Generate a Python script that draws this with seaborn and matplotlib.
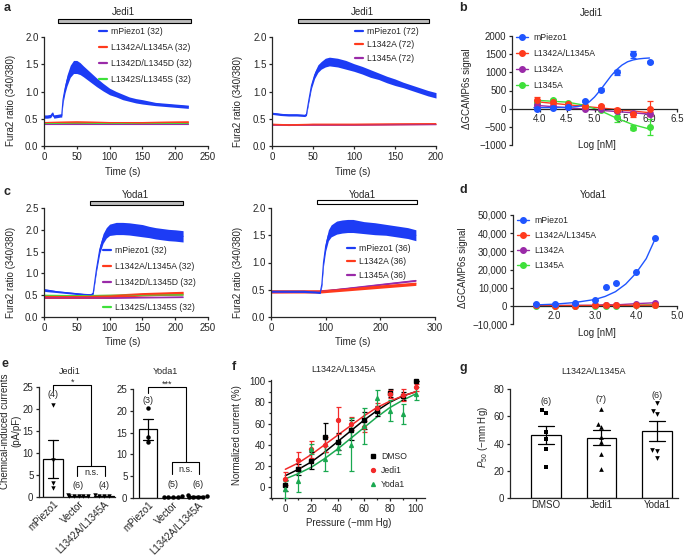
import matplotlib
matplotlib.use("Agg")
import numpy as np
import pandas as pd
import matplotlib.pyplot as plt
import matplotlib.ticker as mticker
import matplotlib.transforms as mtrans
from matplotlib.patches import Rectangle
from matplotlib.lines import Line2D
import seaborn as sns

# ---------------- data ----------------
# a (left): Jedi1, Fura2 ratio, mean and sem
a1_t_wt = [0, 5, 10, 13, 15, 20, 25, 27, 29, 32, 35, 40, 45, 50, 55, 60, 70, 80, 90, 100,
           110, 120, 130, 140, 150, 160, 170, 180, 190, 200, 210, 220]
a1_wt = [0.54, 0.54, 0.55, 0.6, 0.54, 0.55, 0.56, 0.56, 0.85, 1.05, 1.2, 1.37, 1.45, 1.45, 1.42, 1.37,
         1.27, 1.17, 1.08, 1.0, 0.95, 0.9, 0.86, 0.83, 0.81, 0.79, 0.77, 0.76, 0.75, 0.74, 0.73, 0.72]
a1_wt_sem = [0.03, 0.03, 0.03, 0.03, 0.03, 0.03, 0.03, 0.03, 0.06, 0.08, 0.1, 0.11, 0.12, 0.12, 0.11,
             0.1, 0.09, 0.08, 0.07, 0.06, 0.05, 0.05, 0.04, 0.04, 0.04, 0.035, 0.03, 0.03, 0.03,
             0.03, 0.03, 0.03]
a1_t_mut = [0, 50, 100, 150, 220]
a1_aa = [0.43, 0.44, 0.43, 0.43, 0.44]
a1_dd = [0.41, 0.41, 0.41, 0.41, 0.41]
a1_ss = [0.41, 0.42, 0.41, 0.42, 0.41]

# a (right): Jedi1, single mutants
a2_t_wt = [0, 10, 20, 30, 40, 42, 45, 48, 52, 56, 60, 65, 70, 80, 90, 100, 110, 120, 130, 140,
           150, 160, 170, 180, 190, 200]
a2_wt = [0.6, 0.58, 0.57, 0.57, 0.56, 0.58, 0.85, 1.1, 1.3, 1.42, 1.48, 1.53, 1.55, 1.53, 1.49, 1.44,
         1.39, 1.33, 1.28, 1.22, 1.17, 1.12, 1.07, 1.02, 0.97, 0.93]
a2_wt_sem = [0.02, 0.02, 0.02, 0.02, 0.02, 0.02, 0.04, 0.05, 0.06, 0.07, 0.07, 0.08, 0.08, 0.08,
             0.08, 0.07, 0.07, 0.07, 0.06, 0.06, 0.06, 0.05, 0.05, 0.05, 0.05, 0.05]
a2_t_mut = [0, 20, 50, 100, 200]
a2_l1342a = [0.4, 0.39, 0.4, 0.4, 0.41]
a2_l1345a = [0.39, 0.39, 0.39, 0.39, 0.4]

# c (left): Yoda1
c1_t_wt = [0, 5, 20, 40, 60, 72, 75, 80, 85, 90, 95, 100, 110, 120, 130, 140, 150, 160, 170,
           180, 190, 200, 212]
c1_wt = [0.62, 0.61, 0.58, 0.55, 0.52, 0.51, 0.55, 1.1, 1.55, 1.8, 1.93, 2.0, 2.03, 2.03, 2.02,
         2.0, 1.98, 1.95, 1.92, 1.9, 1.88, 1.87, 1.85]
c1_wt_sem = [0.03, 0.03, 0.02, 0.02, 0.02, 0.02, 0.03, 0.06, 0.09, 0.11, 0.12, 0.13, 0.14, 0.14,
             0.14, 0.14, 0.14, 0.13, 0.13, 0.13, 0.13, 0.13, 0.13]
c1_t_mut = [0, 50, 100, 150, 212]
c1_aa = [0.47, 0.47, 0.48, 0.52, 0.55]
c1_dd = [0.44, 0.44, 0.44, 0.45, 0.46]
c1_ss = [0.5, 0.49, 0.5, 0.5, 0.51]

# c (right): Yoda1, single mutants
c2_t_wt = [0, 20, 40, 60, 80, 90, 93, 96, 100, 105, 110, 120, 130, 140, 150, 170, 190, 210, 230,
           250, 265]
c2_wt = [0.47, 0.47, 0.47, 0.47, 0.46, 0.45, 0.6, 1.0, 1.3, 1.5, 1.58, 1.64, 1.66, 1.67, 1.67, 1.64,
         1.62, 1.6, 1.57, 1.54, 1.5]
c2_wt_sem = [0.02, 0.02, 0.02, 0.02, 0.02, 0.02, 0.04, 0.07, 0.09, 0.1, 0.11, 0.12, 0.12, 0.12,
             0.12, 0.11, 0.11, 0.1, 0.1, 0.1, 0.1]
c2_t_mut = [0, 90, 265]
c2_l1342a = [0.47, 0.47, 0.61]
c2_l1345a = [0.46, 0.47, 0.67]

# b: Jedi1 dose response
b_x = [3.95, 4.25, 4.52, 4.82, 5.11, 5.41, 5.70, 6.00]
b_wt = [0, 30, 50, 200, 520, 1000, 1500, 1280]
b_wt_err = [25, 20, 20, 30, 40, 70, 100, 30]
b_aa = [230, 170, 130, 80, 60, -40, -160, 0]
b_aa_err = [80, 50, 30, 20, 40, 60, 60, 200]
b_l1342a = [100, 60, 40, 0, -20, -60, -110, -150]
b_l1342a_err = [30, 20, 20, 20, 20, 30, 40, 60]
b_l1345a = [180, 230, 150, 60, -40, -230, -520, -500]
b_l1345a_err = [40, 30, 30, 20, 30, 150, 80, 220]
b_fit_x = [3.9, 4.2, 4.5, 4.7, 4.8, 4.9, 5.0, 5.1, 5.2, 5.3, 5.4, 5.5, 5.6, 5.7, 5.8, 5.9, 6.0]
b_fit_wt = [30, 30, 35, 60, 100, 180, 320, 500, 700, 900, 1070, 1200, 1290, 1340, 1370, 1385, 1395]
b_fit_lin_x = [3.95, 6.0]
b_fit_aa = [190, -110]
b_fit_l1342a = [90, -150]
b_fit_l1345a_x = [3.95, 4.5, 4.8, 5.1, 5.4, 5.7, 6.0]
b_fit_l1345a = [230, 180, 100, -50, -260, -440, -560]

# d: Yoda1 dose response
d_x = [1.55, 2.03, 2.52, 3.0, 3.27, 3.5, 4.0, 4.47]
d_wt = [800, 800, 1400, 3200, 10200, 12700, 18400, 37300]
d_aa = [200, 100, 100, 200, 300, 300, 300, 400]
d_l1342a = [200, 200, 300, 300, 700, 500, 1200, 1700]
d_l1345a = [-300, -300, -200, -200, -200, -300, 300, 600]
d_fit_x = [1.55, 2.0, 2.5, 3.0, 3.25, 3.5, 3.75, 4.0, 4.25, 4.47]
d_fit_wt = [500, 900, 1800, 3500, 5200, 7800, 12000, 18000, 26000, 37000]

# e: chemical-induced currents (pA/pF)
e_groups = ["mPiezo1", "Vector", "L1342A/L1345A"]
e1_mpiezo = [21.0, 8.5, 2.0, 3.2]
e1_vector = [0.2, 0.3, 0.4, 0.3, 0.2, 0.3]
e1_mut = [0.3, 0.2, 0.4, 0.3]
e2_mpiezo = [20.6, 14.0, 12.8]
e2_vector = [0.2, 0.3, 0.4, 0.3, 0.2]
e2_mut = [0.2, 0.3, 0.3, 0.4, 0.2, 0.8]

# f: pressure response of L1342A/L1345A
f_p = [0, 10, 20, 30, 40, 50, 60, 70, 80, 90, 100]
f_dmso = [2, 17, 25, 47, 43, 54, 63, 72, 89, 86, 100]
f_dmso_err = [5, 5, 8, 14, 8, 9, 8, 5, 4, 4, 0]
f_jedi = [8, 26, 36, 40, 63, 60, 57, 75, 88, 87, 94]
f_jedi_err = [6, 7, 8, 7, 13, 6, 5, 4, 4, 6, 3]
f_yoda = [-2, 6, 36, 27, 37, 40, 58, 84, 72, 69, 88]
f_yoda_err = [8, 10, 5, 12, 6, 25, 17, 8, 10, 9, 6]
f_fit_dmso = [11, 17, 24, 33, 43, 53, 63, 72, 80, 86, 90]
f_fit_jedi = [17, 23, 31, 40, 49, 58, 67, 75, 81, 86, 90]
f_fit_yoda = [8, 13, 19, 27, 36, 46, 56, 66, 75, 82, 88]

# g: P50 values
g_groups = ["DMSO", "Jedi1", "Yoda1"]
g_dmso = [64.4, 62.4, 48.1, 43.2, 35.8, 22.8]
g_jedi = [65.2, 54.0, 51.8, 44.9, 41.2, 32.6, 21.1]
g_yoda = [69.4, 63.8, 61.3, 35.1, 34.4, 29.7]

# ---------------- style ----------------
sns.set_style("ticks")
plt.rcParams["font.family"] = ["Liberation Sans", "DejaVu Sans"]
plt.rcParams.update({
    "font.size": 7,
    "axes.linewidth": 0.9,
    "xtick.major.width": 0.9, "ytick.major.width": 0.9,
    "xtick.minor.width": 0.9, "ytick.minor.width": 0.9,
    "xtick.major.size": 2.5, "ytick.major.size": 2.5,
    "xtick.minor.size": 1.6, "ytick.minor.size": 1.6,
    "xtick.major.pad": 1.5, "ytick.major.pad": 1.5,
    "xtick.labelsize": 7, "ytick.labelsize": 7,
    "axes.labelsize": 7,
    "mathtext.fontset": "custom",
    "mathtext.rm": "Liberation Sans",
    "mathtext.it": "Liberation Sans:italic",
})

BLUE = "#1d3cf5"
RED = "#ff3a1c"
PURPLE = "#9a2aa8"
GREEN = "#3ee03a"
DBLUE = "#1f55ff"
FGREEN = "#1aa850"
FRED = "#f22a2a"
LEGFS = 6.2

W, H = 684, 557
fig = plt.figure(figsize=(W / 100, H / 100), dpi=100)


def add_ax(x0, y0, x1, y1):
    ax = fig.add_axes([x0 / W, 1 - y1 / H, (x1 - x0) / W, (y1 - y0) / H])
    sns.despine(ax=ax)
    return ax


def ftext(x, y, s, **kw):
    kw.setdefault("ha", "center")
    kw.setdefault("va", "center")
    fig.text(x / W, 1 - y / H, s, **kw)


def labels(ax, xl, xc, yl, yc, ylw=4.8):
    if xl:
        ax.set_xlabel(xl)
        ax.xaxis.set_label_coords(xc[0] / W, 1 - (xc[1] - 4.8) / H, transform=fig.transFigure)
    if yl:
        ax.set_ylabel(yl)
        ax.yaxis.set_label_coords((yc[0] + ylw) / W, 1 - yc[1] / H, transform=fig.transFigure)


def drug_bar(ax, x0, x1, y_px, fc):
    trans = mtrans.blended_transform_factory(ax.transData, fig.transFigure)
    fig.add_artist(Rectangle((x0, 1 - (y_px + 1.6) / H), x1 - x0, 3.2 / H, transform=trans,
                             fc=fc, ec="black", lw=0.8))


def trace(ax, t, m, s, color, lw=0.8):
    t = np.asarray(t, float)
    m = np.asarray(m, float)
    s = np.asarray(s, float)
    ax.fill_between(t, m - s, m + s, color=color, lw=0)
    sns.lineplot(x=t, y=m, ax=ax, color=color, lw=lw, legend=False)


def legend(ax, handles, texts, x, y, ls=0.6, hl=0.9, hp=0.5):
    leg = ax.legend(handles, texts, loc="upper left", bbox_to_anchor=(x / W, 1 - y / H),
                    bbox_transform=fig.transFigure, frameon=False, borderpad=0,
                    borderaxespad=0, labelspacing=ls, handlelength=hl, handletextpad=hp,
                    fontsize=LEGFS)
    return leg


def lh(c):
    return Line2D([], [], color=c, lw=1.6)


# ---------------- a (left) ----------------
ax = add_ax(44, 37, 208, 146)
trace(ax, a1_t_mut, a1_ss, [0.01] * 5, GREEN)
trace(ax, a1_t_mut, a1_dd, [0.01] * 5, PURPLE)
trace(ax, a1_t_mut, a1_aa, [0.02] * 5, RED)
trace(ax, a1_t_wt, a1_wt, a1_wt_sem, BLUE)
ax.set_xlim(0, 250)
ax.set_ylim(0, 2.0)
ax.set_xticks([0, 50, 100, 150, 200, 250])
ax.set_yticks([0, 0.5, 1.0, 1.5, 2.0])
ax.yaxis.set_major_formatter(mticker.FormatStrFormatter("%.1f"))
labels(ax, "Time (s)", (123, 172), "Fura2 ratio (340/380)", (11, 100))
legend(ax, [lh(BLUE), lh(RED), lh(PURPLE), lh(GREEN)],
       ["mPiezo1 (32)", "L1342A/L1345A (32)", "L1342D/L1345D (32)", "L1342S/L1345S (32)"],
       99, 27, ls=0.8)
drug_bar(ax, 21, 224, 21, "#bdbdbd")
ftext(123, 12, "Jedi1", fontsize=7)

# ---------------- a (right) ----------------
ax = add_ax(272, 37, 436, 146)
trace(ax, a2_t_mut, a2_l1345a, [0.01] * 5, PURPLE)
trace(ax, a2_t_mut, a2_l1342a, [0.015] * 5, RED)
trace(ax, a2_t_wt, a2_wt, a2_wt_sem, BLUE)
ax.set_xlim(0, 200)
ax.set_ylim(0, 2.0)
ax.set_xticks([0, 50, 100, 150, 200])
ax.set_yticks([0, 0.5, 1.0, 1.5, 2.0])
ax.yaxis.set_major_formatter(mticker.FormatStrFormatter("%.1f"))
labels(ax, "Time (s)", (353, 172), "Fura2 ratio (340/380)", (238, 101))
legend(ax, [lh(BLUE), lh(RED), lh(PURPLE)],
       ["mPiezo1 (72)", "L1342A (72)", "L1345A (72)"], 355, 27, ls=0.5)
drug_bar(ax, 32, 191, 21, "#bdbdbd")
ftext(362, 12, "Jedi1", fontsize=7)

# ---------------- c (left) ----------------
ax = add_ax(44, 208, 208, 317)
trace(ax, c1_t_mut, c1_ss, [0.01] * 5, GREEN)
trace(ax, c1_t_mut, c1_dd, [0.015] * 5, PURPLE)
trace(ax, c1_t_mut, c1_aa, [0.04] * 5, RED)
trace(ax, c1_t_wt, c1_wt, c1_wt_sem, BLUE)
ax.set_xlim(0, 250)
ax.set_ylim(0, 2.5)
ax.set_xticks([0, 50, 100, 150, 200, 250])
ax.set_yticks([0, 0.5, 1.0, 1.5, 2.0, 2.5])
ax.yaxis.set_major_formatter(mticker.FormatStrFormatter("%.1f"))
labels(ax, "Time (s)", (123, 342), "Fura2 ratio (340/380)", (11, 272))
leg = legend(ax, [lh(BLUE), lh(RED), lh(PURPLE)],
             ["mPiezo1 (32)", "L1342A/L1345A (32)", "L1342D/L1345D (32)"], 103, 246, ls=0.8)
ax.add_artist(leg)
legend(ax, [lh(GREEN)], ["L1342S/L1345S (32)"], 103, 303)
drug_bar(ax, 70, 212, 203, "#bdbdbd")
ftext(135, 195, "Yoda1", fontsize=7)

# ---------------- c (right) ----------------
ax = add_ax(271, 208, 435, 317)
trace(ax, c2_t_mut, c2_l1345a, [0.015] * 3, PURPLE)
trace(ax, c2_t_mut, c2_l1342a, [0.03] * 3, RED)
trace(ax, c2_t_wt, c2_wt, c2_wt_sem, BLUE)
ax.set_xlim(0, 300)
ax.set_ylim(0, 2.0)
ax.set_xticks([0, 100, 200, 300])
ax.set_yticks([0, 0.5, 1.0, 1.5, 2.0])
ax.yaxis.set_major_formatter(mticker.FormatStrFormatter("%.1f"))
labels(ax, "Time (s)", (353, 342), "Fura2 ratio (340/380)", (238, 272))
legend(ax, [lh(BLUE), lh(RED), lh(PURPLE)],
       ["mPiezo1 (36)", "L1342A (36)", "L1345A (36)"], 347, 244, ls=0.5)
drug_bar(ax, 84, 267, 202, "white")
ftext(362, 195, "Yoda1", fontsize=7)


# ---------------- b / d dose response ----------------
def dose_points(ax, x, y, err, color):
    ax.errorbar(x, y, yerr=err, fmt="o", ms=4, color=color, ecolor=color, elinewidth=0.9,
                capsize=2.2, capthick=0.9, zorder=4, clip_on=False)


def mh(c):
    return Line2D([], [], color=c, lw=1.0, marker="o", ms=4)


ax = add_ax(512, 36, 677, 145)
sns.lineplot(x=b_fit_lin_x, y=b_fit_aa, ax=ax, color=RED, lw=1.0)
sns.lineplot(x=b_fit_lin_x, y=b_fit_l1342a, ax=ax, color=PURPLE, lw=1.0)
sns.lineplot(x=b_fit_l1345a_x, y=b_fit_l1345a, ax=ax, color=GREEN, lw=1.0)
sns.lineplot(x=b_fit_x, y=b_fit_wt, ax=ax, color=DBLUE, lw=1.0)
dose_points(ax, b_x, b_l1345a, b_l1345a_err, GREEN)
dose_points(ax, b_x, b_l1342a, b_l1342a_err, PURPLE)
dose_points(ax, b_x, b_aa, b_aa_err, RED)
dose_points(ax, b_x, b_wt, b_wt_err, DBLUE)
ax.set_xlim(3.5, 6.5)
ax.set_ylim(-1000, 2000)
ax.spines["bottom"].set_position(("data", 0))
ax.set_xticks([4.0, 4.5, 5.0, 5.5, 6.0, 6.5])
ax.xaxis.set_major_formatter(mticker.FormatStrFormatter("%.1f"))
ax.set_yticks([-1000, -500, 0, 500, 1000, 1500, 2000])
labels(ax, "Log [nM]", (597, 145), "\u0394GCAMP6s signal", (467, 89))
legend(ax, [mh(DBLUE), mh(RED), mh(PURPLE), mh(GREEN)],
       ["mPiezo1", "L1342A/L1345A", "L1342A", "L1345A"], 516, 33, ls=0.8, hl=1.4, hp=0.6)
ftext(591, 13, "Jedi1", fontsize=7)

ax = add_ax(513, 215, 677, 324)
sns.lineplot(x=d_x, y=d_l1345a, ax=ax, color=GREEN, lw=1.0)
sns.lineplot(x=d_x, y=d_l1342a, ax=ax, color=PURPLE, lw=1.0)
sns.lineplot(x=d_x, y=d_aa, ax=ax, color=RED, lw=1.0)
sns.lineplot(x=d_fit_x, y=d_fit_wt, ax=ax, color=DBLUE, lw=1.0)
dose_points(ax, d_x, d_l1345a, None, GREEN)
dose_points(ax, d_x, d_l1342a, None, PURPLE)
dose_points(ax, d_x, d_aa, None, RED)
dose_points(ax, d_x, d_wt, None, DBLUE)
ax.set_xlim(1.0, 5.0)
ax.set_ylim(-10000, 50000)
ax.spines["bottom"].set_position(("data", 0))
ax.set_xticks([2.0, 3.0, 4.0, 5.0])
ax.xaxis.set_major_formatter(mticker.FormatStrFormatter("%.1f"))
ax.set_yticks([-10000, 0, 10000, 20000, 30000, 40000, 50000])
ax.yaxis.set_major_formatter(mticker.FuncFormatter(lambda v, p: f"{int(v):,}".replace("-", "\u2212")))
labels(ax, "Log [nM]", (597, 333), "\u0394GCAMP6s signal", (463, 268))
legend(ax, [mh(DBLUE), mh(RED), mh(PURPLE), mh(GREEN)],
       ["mPiezo1", "L1342A/L1345A", "L1342A", "L1345A"], 517, 216, ls=0.7, hl=1.4, hp=0.6)
ftext(593, 195, "Yoda1", fontsize=7)


# ---------------- e ----------------
def bar_swarm(ax, groups, values, marker, width, capsize):
    df = pd.DataFrame({"group": [g for g, v in zip(groups, values) for _ in v],
                       "value": [x for v in values for x in v]})
    sns.barplot(data=df, x="group", y="value", order=groups, color="white", edgecolor="black",
                linewidth=0.9, width=width, errorbar="se", capsize=capsize,
                err_kws={"color": "black", "linewidth": 0.9}, ax=ax)
    sns.swarmplot(data=df, x="group", y="value", order=groups, color="black", marker=marker,
                  size=3.2, ax=ax, clip_on=False, zorder=5)
    ax.set_xlabel("")
    ax.set_ylabel("")
    ax.tick_params(axis="x", length=0)
    plt.setp(ax.get_xticklabels(), rotation=45, ha="right", rotation_mode="anchor")


def bracket(ax, x0, x1, ytop, yl, yr, text, ty):
    ax.plot([x0, x0, x1, x1], [yl, ytop, ytop, yr], color="black", lw=0.8, clip_on=False)
    ax.text((x0 + x1) / 2, ty, text, ha="center", va="center", fontsize=6.5)


ax = add_ax(39, 387, 115, 497)
bar_swarm(ax, e_groups, [e1_mpiezo, e1_vector, e1_mut], "v", 0.8, 0.4)
ax.set_xlim(-0.55, 2.43)
ax.set_ylim(0, 25)
ax.set_yticks([0, 5, 10, 15, 20, 25])
bracket(ax, 0.95, 2.05, 7.0, 4.8, 4.8, "n.s.", 5.6)
bracket(ax, 0, 1.5, 25.4, 24.3, 7.0, "*", 26.0)
for x, y, s in [(0, 23.3, "(4)"), (1, 2.5, "(6)"), (2, 2.5, "(4)")]:
    ax.text(x, y, s, ha="center", va="center", fontsize=6.5)
labels(ax, None, None, "Chemical-induced currents\n(pA/pF)", (11, 431), ylw=10.5)
ftext(70, 371, "Jedi1", fontsize=6.5)

ax = add_ax(133, 389, 203, 498)
bar_swarm(ax, e_groups, [e2_mpiezo, e2_vector, e2_mut], "o", 0.7, 0.4)
ax.set_xlim(-0.6, 2.2)
ax.set_ylim(0, 25)
ax.set_yticks([0, 5, 10, 15, 20, 25])
bracket(ax, 0.95, 2.05, 8.2, 5.6, 5.6, "n.s.", 6.6)
bracket(ax, 0, 1.5, 25.4, 24.0, 8.2, "***", 26.2)
for x, y, s in [(0, 22.3, "(3)"), (1, 3.1, "(5)"), (2, 3.1, "(6)")]:
    ax.text(x, y, s, ha="center", va="center", fontsize=6.5)
ftext(165, 371, "Yoda1", fontsize=6.5)

# ---------------- f ----------------
ax = add_ax(271, 380, 425, 498)
for fit, col in [(f_fit_dmso, "black"), (f_fit_jedi, FRED), (f_fit_yoda, FGREEN)]:
    sns.lineplot(x=f_p, y=fit, ax=ax, color=col, lw=1.1)
for y, err, col, mk in [(f_dmso, f_dmso_err, "black", "s"), (f_jedi, f_jedi_err, FRED, "o"),
                        (f_yoda, f_yoda_err, FGREEN, "^")]:
    ax.errorbar(f_p, y, yerr=err, fmt=mk, ms=2.8, color=col, ecolor=col, elinewidth=0.9,
                capsize=1.8, capthick=0.9, clip_on=False, zorder=4)
ax.set_xlim(-11, 107)
ax.set_ylim(-10, 101)
ax.set_xticks([0, 20, 40, 60, 80, 100])
ax.xaxis.set_minor_locator(mticker.MultipleLocator(10))
ax.set_yticks([0, 20, 40, 60, 80, 100])
ax.yaxis.set_minor_locator(mticker.MultipleLocator(10))
labels(ax, "Pressure (\u2212mm Hg)", (349, 523), "Normalized current (%)", (237, 435))
legend(ax, [Line2D([], [], ls="none", marker=m, color=c, ms=2.8)
            for m, c in [("s", "black"), ("o", FRED), ("^", FGREEN)]],
       ["DMSO", "Jedi1", "Yoda1"], 370, 452, ls=0.6, hl=0.8, hp=0.5)
ftext(343, 370, "L1342A/L1345A", fontsize=6.5)

# ---------------- g ----------------
ax = add_ax(510, 389, 678, 498)
df = pd.DataFrame({"group": [g for g, v in zip(g_groups, [g_dmso, g_jedi, g_yoda]) for _ in v],
                   "value": g_dmso + g_jedi + g_yoda})
sns.barplot(data=df, x="group", y="value", order=g_groups, color="white", edgecolor="black",
            linewidth=0.9, width=0.54, errorbar="se", capsize=0.3,
            err_kws={"color": "black", "linewidth": 0.9}, ax=ax)
for grp, mk in zip(g_groups, ["s", "^", "v"]):
    sub = df[df["group"] == grp]
    sns.swarmplot(data=sub, x="group", y="value", order=g_groups, color="black", marker=mk,
                  size=3.4, ax=ax, zorder=5)
ax.set_xlim(-0.65, 2.38)
ax.set_ylim(0, 80)
ax.set_yticks([0, 20, 40, 60, 80])
ax.tick_params(axis="x", length=0)
ax.set_xlabel("")
labels(ax, None, None, "$P_{50}$ (\u2212mm Hg)", (485, 437))
for x, y, s in [(0, 70.5, "(6)"), (1, 72, "(7)"), (2, 75.5, "(6)")]:
    ax.text(x, y, s, ha="center", va="center", fontsize=6.5)
ftext(593, 371, "L1342A/L1345A", fontsize=6.5)

# panel letters
for x, y, s in [(7, 8, "a"), (463, 8, "b"), (7, 192, "c"), (463, 190, "d"),
                (5, 364, "e"), (234, 367, "f"), (463, 368, "g")]:
    ftext(x, y, s, fontsize=9, fontweight="bold")

fig.savefig("out.png", dpi=100)
